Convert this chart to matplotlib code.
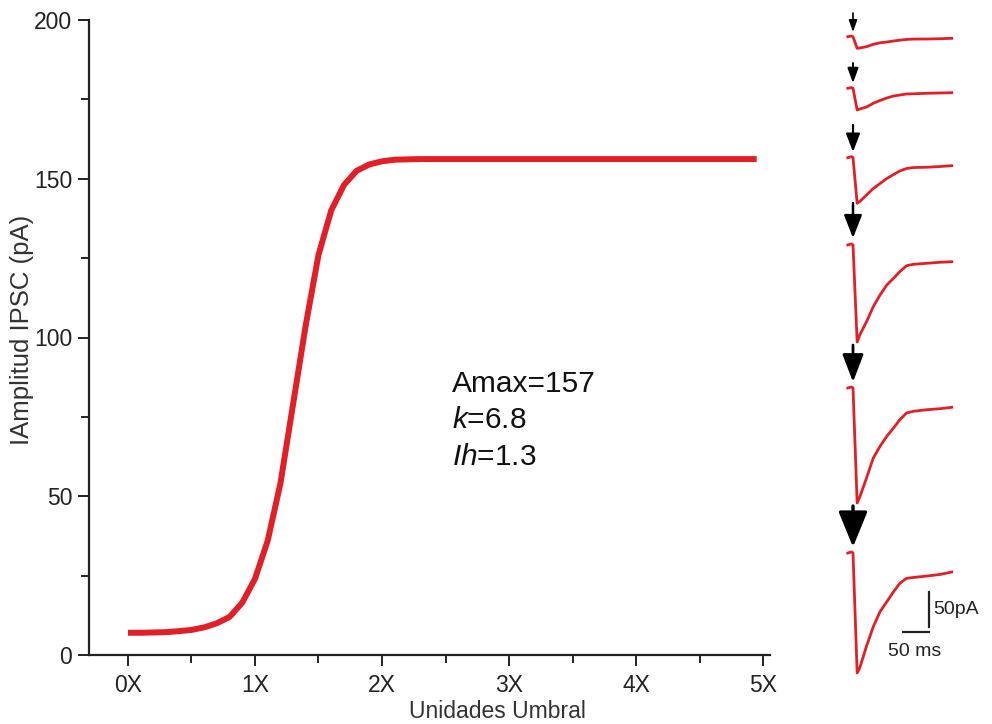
import matplotlib
matplotlib.use("Agg")
import matplotlib.pyplot as plt
import numpy as np

plt.rcParams['font.family'] = ['Liberation Sans', 'DejaVu Sans']
plt.rcParams['mathtext.fontset'] = 'custom'
plt.rcParams['mathtext.rm'] = 'Liberation Sans'
plt.rcParams['mathtext.it'] = 'Liberation Sans:italic'

# ---- main curve data ----
stim_units = [0.0, 0.1, 0.2, 0.3, 0.4, 0.5, 0.6, 0.7, 0.8, 0.9, 1.0, 1.1, 1.2, 1.3,
              1.4, 1.5, 1.6, 1.7, 1.8, 1.9, 2.0, 2.1, 2.2, 2.3, 2.5, 3.0, 4.0, 4.95]
ipsc_amp = [7.0, 7.0, 7.1, 7.2, 7.5, 7.9, 8.7, 10.0, 12.0, 16.5, 24.0, 36.0, 54.0, 79.0,
            104.0, 126.0, 140.0, 148.0, 152.5, 154.5, 155.5, 156.0, 156.1, 156.2, 156.2,
            156.2, 156.2, 156.2]
x_ticks = [0, 1, 2, 3, 4, 5]
x_ticklabels = ["0X", "1X", "2X", "3X", "4X", "5X"]
y_ticks = [0, 50, 100, 150, 200]

# ---- example traces (ms, pA relative to baseline) ----
trace_time = [-10, -3, 0, 8, 13, 26, 39, 52, 65, 78, 90, 103, 116, 142, 167, 190]
trace1 = [0, 1.0, 0, -16.6, -16.1, -14.3, -10.9, -8.7, -7.6, -6.1, -5.0, -3.9, -3.4, -3.3, -2.9, -2.3]
trace2 = [0, 1.0, 0, -31.0, -29.6, -26.7, -21.4, -17.4, -13.9, -11.0, -9.6, -8.1, -7.9, -7.1, -6.7, -6.3]
trace3 = [0, 1.5, 0, -65.1, -62.6, -53.3, -44.0, -36.9, -29.7, -24.0, -19.0, -15.4, -14.1, -13.6, -12.6, -11.4]
trace4 = [0, 1.5, 0, -138.6, -128.6, -109.6, -88.1, -71.4, -57.1, -47.6, -38.1, -29.6, -27.6, -26.1, -24.7, -23.9]
trace5 = [0, 1.5, 0, -164.3, -155.7, -128.6, -100.0, -83.3, -69.0, -57.1, -45.3, -35.7, -33.3, -31.0, -29.6, -27.6]
trace6 = [0, 1.5, 0, -171.4, -164.3, -132.9, -105.3, -83.8, -69.6, -55.3, -43.3, -36.1, -35.0, -32.9, -30.7, -27.1]
traces = [trace1, trace2, trace3, trace4, trace5, trace6]

RED = '#e21f26'
W, H = 992, 724
fig = plt.figure(figsize=(W / 100, H / 100), dpi=100)

# main axes
ax = fig.add_axes([89 / W, 1 - 655 / H, (770 - 89) / W, (655 - 20) / H])
ax.plot(stim_units, ipsc_amp, color=RED, lw=4.3, solid_capstyle='butt')
ax.set_xlim(-0.307, 5.055)
ax.set_ylim(0, 200)
ax.set_xticks(x_ticks)
ax.set_xticklabels(x_ticklabels)
ax.set_xticks([0.5, 1.5, 2.5, 3.5, 4.5], minor=True)
ax.set_yticks(y_ticks)
ax.set_yticks([25, 75, 125, 175], minor=True)
for s in ['top', 'right']:
    ax.spines[s].set_visible(False)
for s in ['left', 'bottom']:
    ax.spines[s].set_linewidth(1.6)
    ax.spines[s].set_color('#222222')
ax.tick_params(which='major', direction='out', length=8, width=1.4, labelsize=16.5,
               colors='#222222', pad=6)
ax.tick_params(which='minor', direction='out', length=5.5, width=1.4, colors='#222222')
ax.tick_params(axis='y', pad=4)

fig.text(497 / W, 1 - 712 / H, "Unidades Umbral", ha='center', va='center',
         fontsize=16.5, color='#333333')
fig.text(22 / W, 1 - 330 / H, "IAmplitud IPSC (pA)", ha='center', va='center',
         rotation=90, fontsize=18.5, color='#333333')

fig.text(452 / W, 1 - 392 / H, "Amax=157", fontsize=21.5, va='baseline', color='#111111')
fig.text(452 / W, 1 - 428 / H, r"$\it{k}$=6.8", fontsize=21.5, va='baseline', color='#111111')
fig.text(452 / W, 1 - 465 / H, r"$\it{Ih}$=1.3", fontsize=21.5, va='baseline', color='#111111')

# inset axes for traces: px -> ms / pA
MS_PER_PX = 50 / 26
PA_PER_PX = 50 / 35
x0_px, x1_px, stim_px = 838, 962, 853
axt = fig.add_axes([x0_px / W, 1 - 690 / H, (x1_px - x0_px) / W, 690 / H])
axt.set_xlim((x0_px - stim_px) * MS_PER_PX, (x1_px - stim_px) * MS_PER_PX)
axt.set_ylim(-690 * PA_PER_PX, 0)
axt.axis('off')

base_px = [36.7, 88.3, 157.7, 245, 388, 553]
arrow_px = [(13, 32), (63, 83), (125, 152), (203, 238), (345, 382), (506, 547)]
head_w = [5, 6.5, 8.5, 11, 13, 18]
head_l = [7, 9, 11, 14, 17, 22]
shaft_lw = [1.2, 1.4, 1.6, 1.8, 2.0, 2.4]
for tr, bp, (a0, a1), hw, hl, slw in zip(traces, base_px, arrow_px, head_w, head_l, shaft_lw):
    off = -bp * PA_PER_PX
    axt.plot(trace_time, np.array(tr) + off, color=RED, lw=2.0)
    axt.annotate("", xy=(0, -a1 * PA_PER_PX), xytext=(0, -a0 * PA_PER_PX),
                 arrowprops=dict(arrowstyle=f"-|>,head_width={hw/20:.2f},head_length={hl/10:.2f}",
                                 color='black', lw=slw, shrinkA=0, shrinkB=0))

# scale bars
sb_x = (929 - stim_px) * MS_PER_PX
axt.plot([sb_x, sb_x], [-592 * PA_PER_PX, -627 * PA_PER_PX], color='#222222', lw=1.6,
         clip_on=False)
axt.plot([sb_x - 50, sb_x], [-632 * PA_PER_PX, -632 * PA_PER_PX], color='#222222', lw=1.6,
         clip_on=False)
axt.text(sb_x + 8, -609 * PA_PER_PX, "50pA", fontsize=14, va='center', ha='left',
         color='#222222', clip_on=False)
axt.text(sb_x - 27, -651 * PA_PER_PX, "50 ms", fontsize=14, va='center', ha='center',
         color='#222222', clip_on=False)

fig.savefig("out.png", dpi=100)
